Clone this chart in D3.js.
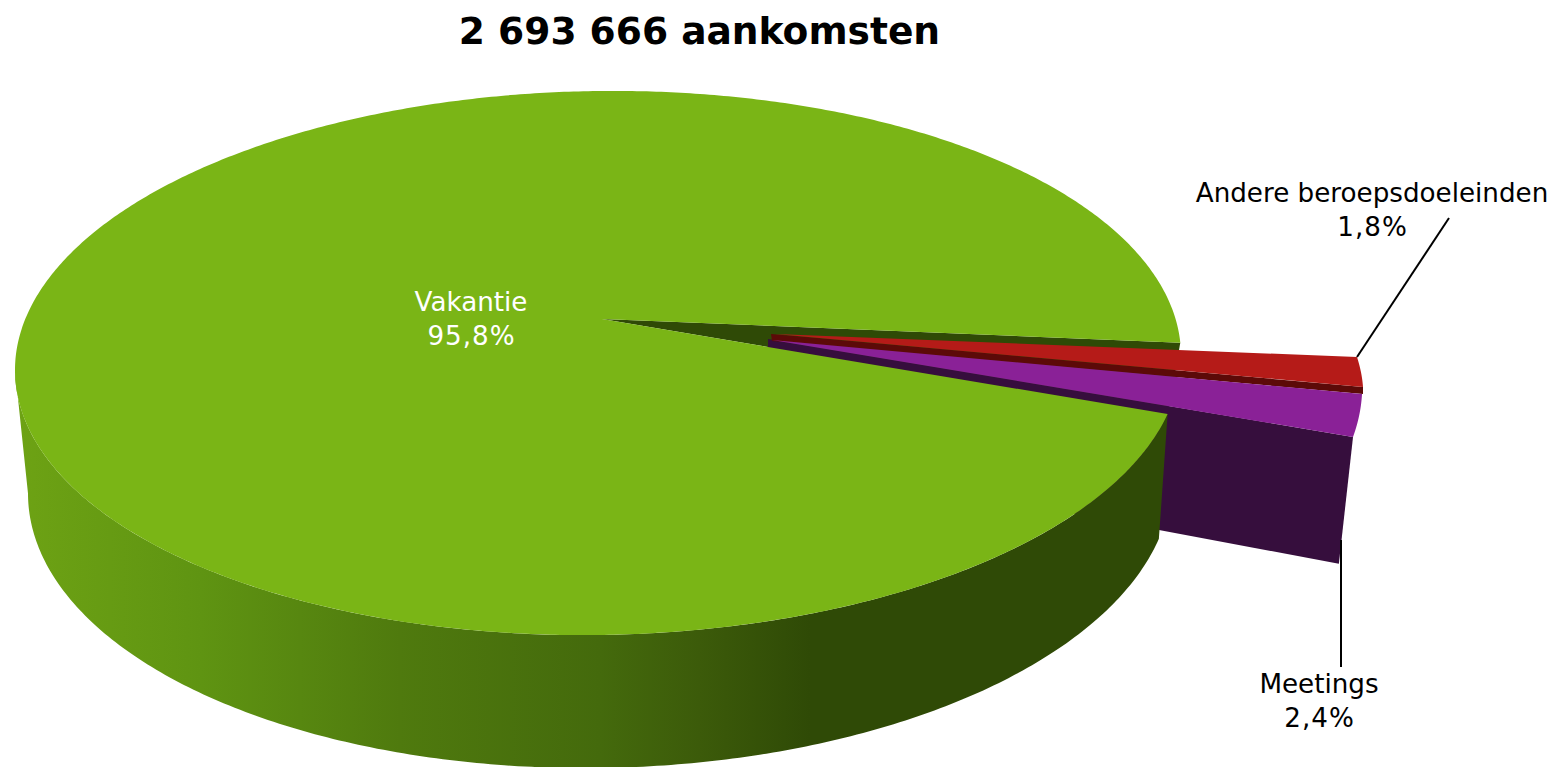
<!DOCTYPE html>
<html><head><meta charset="utf-8">
<script src="https://cdn.jsdelivr.net/npm/d3@7"></script>
<style>html,body{margin:0;padding:0;background:#fff;overflow:hidden}svg{display:block}text{font-family:"DejaVu Sans",Verdana,sans-serif}</style>
</head><body><svg id="c" width="1557" height="767"></svg>
<script>
const categories = ["Vakantie", "Andere beroepsdoeleinden", "Meetings"];
const percentLabels = ["95,8%", "1,8%", "2,4%"];
const values = [95.8, 1.8, 2.4];
const titleText = "2 693 666 aankomsten";
const topColors = ["#7ab516", "#b51b18", "#8a2197"];
const wallColors = ["#2f4a06", "#5c0a08", "#360e3d"];

const svg = d3.select("#c");
const rad = d => d * Math.PI / 180;
const TOP = {cx: 598, cy: 363, rx: 583, ry: 272, k: 0.012};
const LOW = {cx: 600, cy: 486, rx: 572, ry: 282, k: 0.013};
const APEX = [602, 319];
const arcs = d3.pie().sort(null).value(d => d).startAngle(rad(102.3)).endAngle(rad(462.3))(values);
const [green, red, purple] = arcs;

const pt = (e, a, o = [0, 0]) => {
  const dx = e.rx * Math.sin(a);
  return [e.cx + dx + o[0], e.cy - e.ry * Math.cos(a) - e.k * dx + o[1]];
};
// points along a rim between two angles, with an exploded offset that drifts from o0 to o1
const rim = (e, a0, a1, o0 = [0, 0], o1 = o0, n = 240) => {
  const io = d3.interpolate(o0, o1), ia = d3.interpolateNumber(a0, a1);
  return d3.range(n + 1).map(i => pt(e, ia(i / n), io(i / n)));
};
const line = d3.line();
const poly = (fill, pts) => svg.append("path").attr("fill", fill).attr("d", line(pts) + "Z");

const redOff0 = [176.7, 14.4], redOff1 = [183.2, 13.6];
const purOff0 = [182.2, 20.6], purOff1 = [185.4, 22.8], purLowOff = [180, 25];
const redApex = [775, 334], purApex = [772, 340];

// gradient on the outer wall
const grad = svg.append("defs").append("linearGradient").attr("id", "wall")
  .attr("gradientUnits", "userSpaceOnUse").attr("x1", 0).attr("x2", 1200).attr("y1", 0).attr("y2", 0);
[[0.017, "#6da214"], [0.167, "#5f9412"], [0.333, "#4f7a0e"], [0.5, "#446a0c"], [0.583, "#3c5b0a"], [0.675, "#2f4a06"], [1, "#2f4a06"]]
  .forEach(s => grad.append("stop").attr("offset", s[0]).attr("stop-color", s[1]));

const ge = purple.endAngle - 2 * Math.PI, left = rad(270);

// wall of the gap behind the exploded slices
poly(wallColors[0], [APEX, pt(TOP, red.startAngle), pt(TOP, ge)]);

// purple wall
const pe = pt(TOP, ge, purOff1), pl = pt(LOW, ge, purLowOff);
const hiddenX = purApex[0] - 4, lowSlope = 0.188;
poly(wallColors[2], [[hiddenX, purApex[1] - 1], pe, pl, [hiddenX, pl[1] - lowSlope * (pl[0] - hiddenX)]]);

// red wall
const rs = pt(TOP, red.endAngle, redOff1);
poly(wallColors[1], [[redApex[0] - 4, redApex[1]], rs, [rs[0], rs[1] + 7], [purApex[0], purApex[1] + 1]]);

// green outer wall
poly("url(#wall)", rim(TOP, left, ge).concat(rim(LOW, ge, left)));

// green top
poly(topColors[0], [APEX].concat(rim(TOP, green.startAngle, green.endAngle, [0, 0], [0, 0], 720)));

// exploded tops
poly(topColors[2], [purApex].concat(rim(TOP, purple.startAngle, purple.endAngle, purOff0, purOff1)));
poly(topColors[1], [redApex].concat(rim(TOP, red.startAngle, red.endAngle, redOff0, redOff1)));

// leader lines
const leaders = [
  {a: pt(TOP, red.startAngle, redOff0), b: [1449, 218]},
  {a: [1341, 540], b: [1341, 667]}
];
svg.selectAll("line.l").data(leaders).join("line").attr("class", "l")
  .attr("x1", d => d.a[0]).attr("y1", d => d.a[1]).attr("x2", d => d.b[0]).attr("y2", d => d.b[1])
  .attr("stroke", "#000").attr("stroke-width", 2);

// labels
const labelPos = [{x: 471, y: 311, c: "#fff"}, {x: 1372, y: 202, c: "#000"}, {x: 1319, y: 693, c: "#000"}];
categories.forEach((c, i) => {
  const t = svg.append("text").attr("text-anchor", "middle").attr("fill", labelPos[i].c).attr("font-size", 26.2);
  t.append("tspan").attr("x", labelPos[i].x).attr("y", labelPos[i].y).text(c);
  t.append("tspan").attr("x", labelPos[i].x + 0.5).attr("y", labelPos[i].y + 34).attr("letter-spacing", 1).text(percentLabels[i]);
});
svg.append("text").attr("x", 699.5).attr("y", 44).attr("text-anchor", "middle")
  .attr("font-size", 37.6).attr("font-weight", "bold").attr("fill", "#000").text(titleText);
</script></body></html>
